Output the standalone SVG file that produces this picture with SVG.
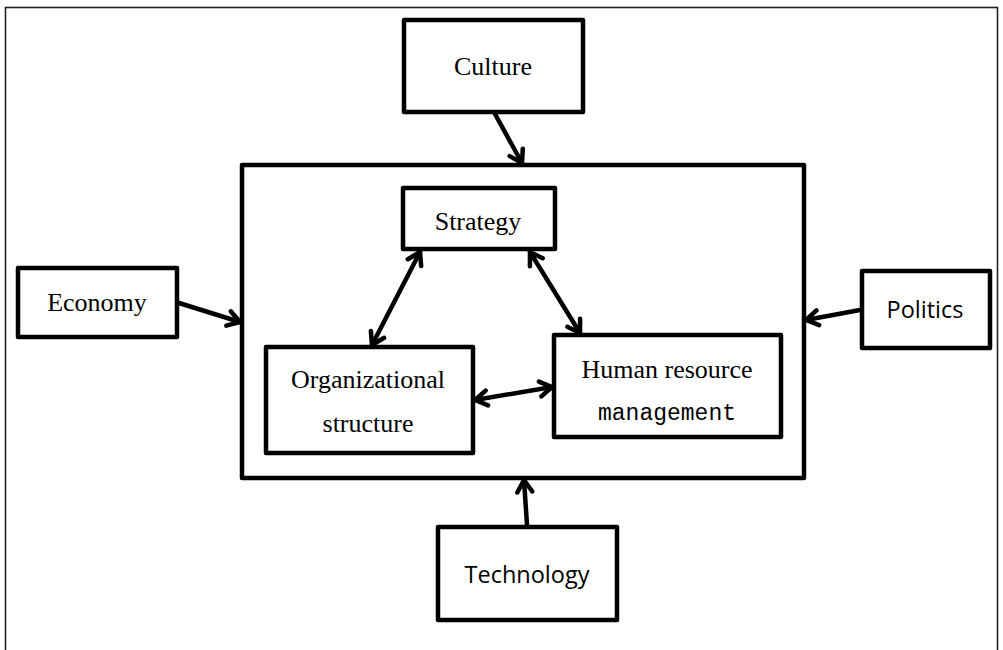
<svg xmlns="http://www.w3.org/2000/svg" width="1003" height="650" viewBox="0 0 1003 650">
<defs>
<style>
.box{fill:#fff;stroke:#000;stroke-width:4.5;stroke-linejoin:round}
.conn{fill:none;stroke:#000;stroke-width:4.5;stroke-linecap:round}
.serif{font-family:"Liberation Serif","Times New Roman",serif;font-size:26px;fill:#000;text-anchor:middle}
.sans{font-family:"Open Sans","Liberation Sans",sans-serif;font-size:23.5px;fill:#000;text-anchor:middle}
.mono{font-family:"Liberation Mono","Courier New",monospace;font-size:23px;fill:#000;text-anchor:middle}
</style>
<marker id="arr" viewBox="0 0 20 20" refX="15" refY="10" markerWidth="20" markerHeight="20" markerUnits="userSpaceOnUse" orient="auto-start-reverse">
<path d="M3,2.5 L15,10 L3,17.5" fill="none" stroke="#000" stroke-width="4.5" stroke-linecap="round" stroke-linejoin="round"/>
</marker>
</defs>
<rect width="1003" height="650" fill="#fff"/>
<rect id="frame" x="5.5" y="7.5" width="992" height="670" fill="none" stroke="#222" stroke-width="1.6"/>

<g id="main"><rect class="box" x="242" y="165" width="562" height="313"/></g>

<g id="culture"><rect class="box" x="404" y="20" width="179" height="92"/><text class="serif" x="493" y="75">Culture</text></g>
<g id="strategy"><rect class="box" x="403" y="188" width="152" height="61"/><text class="serif" x="478" y="230">Strategy</text></g>
<g id="economy"><rect class="box" x="18" y="268" width="159" height="69"/><text class="serif" x="97" y="311">Economy</text></g>
<g id="politics"><rect class="box" x="862" y="271" width="128" height="77"/><text class="sans" x="925" y="318">Politics</text></g>
<g id="org"><rect class="box" x="266" y="347" width="207" height="106"/><text class="serif" x="368" y="388">Organizational</text><text class="serif" x="368" y="432">structure</text></g>
<g id="hrm"><rect class="box" x="554" y="335" width="227" height="102"/><text class="serif" x="667" y="378">Human resource</text><text class="mono" x="667" y="420">management</text></g>
<g id="technology"><rect class="box" x="438" y="527" width="179" height="93"/><text class="sans" x="527" y="583">Technology</text></g>

<g id="connectors">
<line class="conn" x1="495" y1="114" x2="522" y2="163" marker-end="url(#arr)"/>
<line class="conn" x1="179" y1="303" x2="240" y2="322" marker-end="url(#arr)"/>
<line class="conn" x1="860" y1="310" x2="806" y2="320" marker-end="url(#arr)"/>
<line class="conn" x1="527" y1="525" x2="524" y2="480" marker-end="url(#arr)"/>
<line class="conn" x1="420" y1="252" x2="372" y2="345" marker-start="url(#arr)" marker-end="url(#arr)"/>
<line class="conn" x1="530" y1="252" x2="580" y2="333" marker-start="url(#arr)" marker-end="url(#arr)"/>
<line class="conn" x1="475" y1="400" x2="552" y2="387" marker-start="url(#arr)" marker-end="url(#arr)"/>
</g>
</svg>
